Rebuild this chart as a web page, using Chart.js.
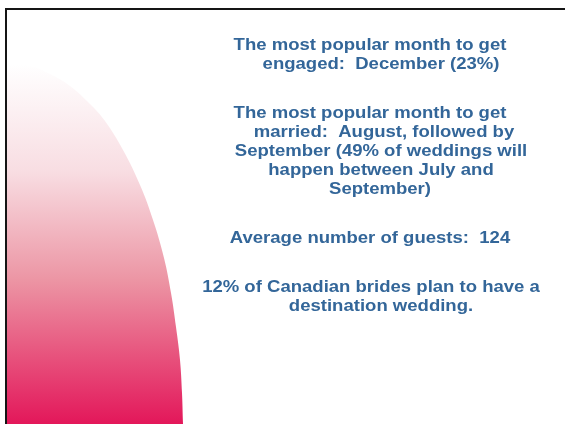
<!DOCTYPE html>
<html>
<head>
<meta charset="utf-8">
<script src="https://cdn.jsdelivr.net/npm/chart.js@4.4.0/dist/chart.umd.min.js"></script>
<style>
  html, body { margin: 0; padding: 0; background: #fff; }
  #wrap { width: 565px; height: 424px; position: relative; }
</style>
</head>
<body>
<div id="wrap"><canvas id="slide"></canvas></div>
<script>
// outline of the pink swoosh on the left (x, height above the bottom edge)
const edgeX = [7, 30, 50, 70, 90, 105, 123, 140, 153, 164, 171, 176, 180, 182, 183];
const edgeH = [360, 358, 350, 338, 320, 303, 274, 239, 204, 166, 131, 97, 64, 31, 0];

const lines = [
  'The most popular month to get',
  'engaged:  December (23%)',
  'The most popular month to get',
  'married:  August, followed by',
  'September (49% of weddings will',
  'happen between July and',
  'September)',
  'Average number of guests:  124',
  '12% of Canadian brides plan to have a',
  'destination wedding.'
];
const lineX = [370, 381, 370, 384, 381, 381, 380, 370, 371, 381];
const lineY = [45, 64, 113, 132, 151, 170, 189, 238, 287, 306];

const slideText = {
  id: 'slideText',
  afterDraw(chart) {
    const ctx = chart.ctx;
    ctx.save();
    // frame
    ctx.fillStyle = '#151515';
    ctx.fillRect(5, 8, 560, 2);
    ctx.fillRect(5, 8, 2, 416);
    // text, a little wider than tall like the exported slide
    ctx.fillStyle = '#336699';
    ctx.font = 'bold 17px "Liberation Sans", Arial, sans-serif';
    ctx.textAlign = 'center';
    ctx.textBaseline = 'middle';
    lines.forEach((t, i) => {
      ctx.save();
      ctx.translate(lineX[i], lineY[i]);
      ctx.scale(1.09, 1);
      ctx.fillText(t, 0, 0);
      ctx.restore();
    });
    ctx.restore();
  }
};

new Chart(document.getElementById('slide'), {
  type: 'line',
  data: {
    datasets: [{
      data: edgeX.map((x, i) => ({ x: x, y: edgeH[i] })),
      borderWidth: 0,
      pointRadius: 0,
      fill: 'origin',
      tension: 0.4,
      backgroundColor: (c) => {
        const area = c.chart.chartArea;
        if (!area) return '#e8768a';
        const g = c.chart.ctx.createLinearGradient(0, 64, 0, 424);
        g.addColorStop(0, '#ffffff');
        g.addColorStop(0.3, '#f8dde2');
        g.addColorStop(0.6, '#ec95a4');
        g.addColorStop(1, '#e3175a');
        return g;
      }
    }]
  },
  options: {
    responsive: true,
    maintainAspectRatio: false,
    animation: false,
    layout: { padding: 0 },
    plugins: { legend: { display: false }, tooltip: { enabled: false } },
    scales: {
      x: { type: 'linear', min: 0, max: 565, display: false },
      y: { min: 0, max: 424, display: false }
    }
  },
  plugins: [slideText]
});
</script>
</body>
</html>
